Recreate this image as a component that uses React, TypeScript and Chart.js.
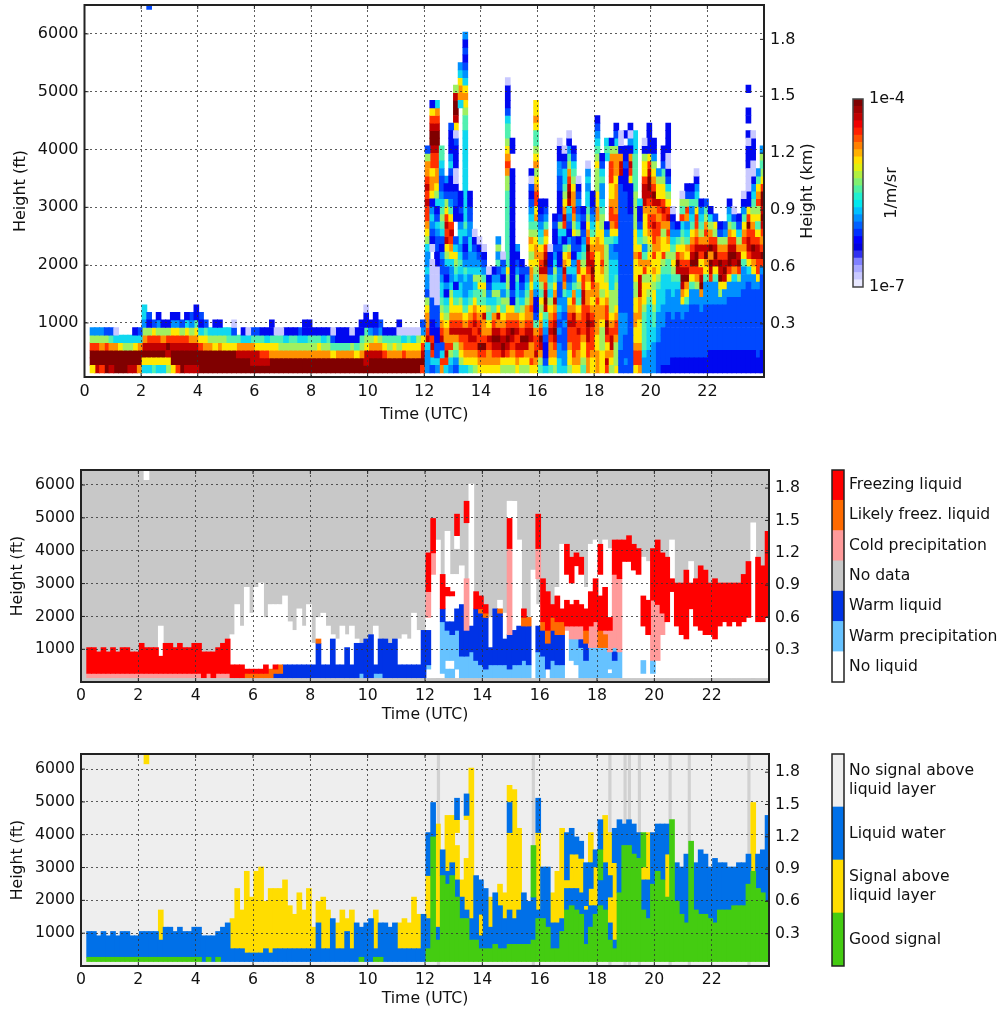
import React, { useEffect, useRef } from "react";
import { Chart, registerables } from "chart.js";

Chart.register(...registerables);

const FONT = "'DejaVu Sans'";
const hourTicks = [0, 2, 4, 6, 8, 10, 12, 14, 16, 18, 20, 22];
const feetTicks = [1000, 2000, 3000, 4000, 5000, 6000];
const kmTicks = [0.3, 0.6, 0.9, 1.2, 1.5, 1.8];

// bottom-up, one char per range gate, 10-minute columns from 00:12 UTC
const backscatterLevels: Record<string, string> = {
  "0": "#c8c8ff", "1": "#0008f0", "2": "#0048ff", "3": "#0090ff", "4": "#10d8f0", "5": "#50f0b0",
  "6": "#a0f060", "7": "#ffe800", "8": "#ff9000", "9": "#ff3000", a: "#c00000", b: "#800000",
};
const backscatterEarly = [
  "7bb963","abb963","9bb863","bbb962","abb852","bbb840","bbb74","bbb64","abb64","abb741","8bb842","47ba86344",
  "47ba9612........................................23","57ba972","47ba9631","47ba861","67ab961","7bba9731","9bba9731","bbba962","abba9741","abba8632","abba87511",
  "bbb97412","bbb8752","bbb864","bbb7641","bbb8641","bbb764","bbb754","bbb7520","bba85","bba841","bba840","baa852","baa752","ba9751","ba9741",
  "bb87511","bb8750","bb8650","bb8641","bb8651","bb8651","bb8642","bb86411","bb86511","bb8651","bb8751","bb8641","bb8651","bb7520","bb8511","bb8511","bb8511","bb8610","bb7511","bb86511",
  "baa7651 10","bba8631","bba87211","bba8632","bb9751","bb8651","bb8751","bb86501","bb9740","bb8750","bb8740","bb8760","9ba9732",
];
const backscatterLate = [
  "3334a98876233433467899a9a98862","249a91122200000.0123431788799abba971","34221122200000112234214678899abba984","8942a9876544322312456543223455",
  "49a9887654131246 7a9a976213","346 98a9877643347 89a9753211243111 2","23568a987541456742..1122100111207abba6","46789a98764434543443121 1...........488743",
  "4789 9a87543345321245444444444444556787432 1213","5789aa987543343344332211","6789a9a987546433210","789b9a987557643210","789b988a756753210","7889a87564321 0",
  "789aba98546431","789aba8a756432 5363","67aba9875634 1320","679aba98765667555555555566898765542111 0","6789ab98712111111111 1111111..11","789a9a98554453213","679ab9876432121","678aba98865432","7988aa98988 78876786543212 01",
  "78a9985211345678876587998768765578 77","568ab98767568a98754321 1","42112345aba98aba978532 1","57889a98764542110","6789aba98a87564321121","4433232343223311234621112233110","433222323358 9a87514 9a87654 4210","677899a98743247863123 4ab a98653 10","78999 9aa89853431227689887654 21",
  "78899a9875467994216432 3210","5677899 99aa997654321 21","8899aab a988789aab98765443 430","7789 99a98789aba98754321 1","888778888988777788778877666765 4321","77766678876778988776654 33542 1","9a879ab9987766666 531........454","678aa98766644443 3578998779998 61","7666899876665443247 998888788864 21",
  "2223333322222222222222222 1aa81 00","2322233322222222222222221112 11.1","2222222222222222222221111 79a8130 1","799877887766777877766666555554 44","89987778 88aaa7897542 114","33455555677769853 677 78aaa97761 0","33344444456767876789 98 9abba97111 1","3333 445567767879899a98ab98763 11","2222333344 456777889989a7763","122222333444456 97768 9a97765 211","1222222233344 556789 8a976421001111",
  "11222223334 45676543210","112222223334 5ab97531","1122222337 8aba987654956 0","1122222235 78ba97854389621","112222222335 79ba98754352 1","112222222336 89bba9899754310","11222222338ba979a865431","112222222333 578ba89865 2","111222222333 9ab8b98641","111222222333 57aba9672","11122222236 7bab98621","11122222233 7aba98632","111222222233 79bba98643 1","1112222222334 8aba9752 0","1112222222336 9ba8642 1","111222222223 33578987531 0",
  "1112222222223479aa9b971100011101.11..1","11122222222337 8ab998765431001110","11222222222379 9aa975769875 3","111222222222239b989ababb97656 3",
];
const backscatterCols = backscatterEarly.concat(backscatterLate).map((c) => c.replace(/\s/g, ""));

// run-length columns, bottom-up, class letter followed by number of range gates
const phaseColors: Record<string, string> = { F: "#ff0000", L: "#ff6a00", C: "#ff9a9a", W: "#0033e6", P: "#66c2ff", N: "#ffffff" };
const phaseCols = [
  "C1F6","C1F6","C1F5","C1F6","C1F5","C1F6","C1F5","C1F6","C1F6","C1F5","C1F5","C1F7","C1F6_39N5","C1F6","C1F6","C1F4N7","C1F7","C1F7","C1F6","C1F7","C1F6","C1F6","C1F7","C1F7","F6","C1F5","F6","C1F6","C1F7","C1F8",
  "F3N7","F3N14","F3N9","L1F1N19","L1F1N13","L1F1N19","L1F1N20","L1F2N11","L2N15","W1L1F1N14","W1L2N14","W3N16","W3N10","W3N8","W3N13","W3N9","W3N14","W3N5","W8L1N5","W3N12","W3N9","W9N1","W3N6","W3N9","W7N3","W3N9","W8N1","P1W7","W9","W10","P1W2N9","P1W8","W9","W8","W9","W3N6","W3N7","W3N6","W3N12","W3N8","W11",
  "N2P1W8N3C6F9","N24C5F8","N32","N1P12W3F8","P2N2P7W2N6F2N13","P2N2P6W3N6F1N4","N2P9W5N8_6N3F5","P5W12N9","P5W6C12_13F5","P6W6N33","P4W12F4","P3W12L1F3","P2W12L1F2","P3W4N7","P3W13","P3W12L1N2","P3W6N6","P2W8C20F7N4","P3W8N30","P3W9N20","P4W8L2F2","P3W9L2","N25","P6W6N5_6C7F8",
  "P5W6L2F10","N2W6L3F9","P4W7L3F3","P3W7L3F6N2","P3W7L3F3N15","N11C1F6N6F7","N4P5C3F5N5F6","N3P6C3F6N8F3","P7W2C3F5N7F4","P4W4L3F5N5","P7C5F8N11","P7C6F10N9","P7L4F8N5F7","P7L3C1F10N11","P1N1P4C5F3N16","P4W2P1C17F8","P6C17F9","N27F5","N27F6","N25F6","N24F6","N1P3N8F7N9","N10F8N9","N1P3C14F12","N4C13F15","N10C5F14","N13F15","N20F3N9",
  "N12F10","N10F12","N9F16","N16F6N5","N12F11","N11F15","N10F15","N10F12","N9F14","N12F10","N13F9","N12F10","N13F9","N12F10","N13F11","N14F13","N36","N13F15","N13F13","N14F20",
];

const signalColors: Record<string, string> = { G: "#44cc11", B: "#0070e8", Y: "#ffdd00" };
const signalCols = [
  "G1B6","G1B6","G1B5","G1B6","G1B5","G1B6","G1B5","G1B6","G1B6","G1B5","G1B5","G1B6","G1B6_39Y5","G1B6","G1B6","G1B4Y7","G1B7","G1B7","G1B6","G1B7","G1B6","G1B6","G1B7","G1B7","B6","G1B5","B6","G1B6","B8","B9",
  "B3Y7","B3Y14","B3Y9","B2Y19","B2Y13","B2Y19","B2Y20","B3Y11","B2Y15","B3Y14","B3Y14","B3Y16","B3Y10","B3Y8","B3Y13","B3Y9","B3Y14","B3Y5","B9Y5","B3Y12","B3Y9","B10","B3Y6","B3Y9","B7Y3","B3Y9","B9","G1B7","B9","B10","G1B2Y9","G1B8","B9","B8","B9","B3Y6","B3Y7","B3Y6","B3Y12","B3Y8","B11",
  "G3B7Y10B10","G29B8","G5B3Y24","G20B6","G18B3Y13","G20B3Y11","G15B4Y8_3Y3B5","G10B5Y4","G10B2Y12_9Y1B5","G5B5Y35","G5B15","G3B3Y5B8","G3B14","G3B5Y7","G4B12","G3B10Y5","G3B7Y6","G4B8Y18B7Y4","G4B6Y30","G4B8Y19","G4B12","G4B10","G5B10G12","G10B2Y18B8",
  "G10B12","G8B14","G3B6Y7","G3B6Y12","G7B3Y21","G12B5Y2B11","G13B4Y8B6","G12B5Y8B4","G11B5Y8B4","G4B8Y1B10","G8B5Y4B6Y7","G11B2Y9B4","G13B6G7B7","G12B11Y11","G5B4Y6B5Y10","G3B2Y18B8","G16B17","G27B5","G27B6","G25B7","G24B6","G12B7Y3G8","G10B9Y11","G18B12","G21B11","G19B13","G15Y10B7","G33",
  "G14B9","G11B11","G9B16","G28","G12B11","G11B15","G11B14","G10B12","G9B15","G12B11","G12B11","G12B10","G13B9","G13B10","G13B10","G18B7","G21Y16","G17B8","G16B10","G14B20",
];
const noSignalHours = [12.47, 15.78, 18.45, 18.98, 19.13, 19.48, 20.55, 21.22, 23.3];

const colorbarStops = ["#e8e8ff","#c8c8ff","#a8a8ff","#8080ff","#3030f0","#0000e0","#0000ff","#0030ff","#0060ff","#0090ff","#00c0ff","#00e8f0","#20f0d0","#50f0a0","#80f070","#b0f040","#e0f010","#ffe000","#ffb000","#ff8000","#ff5000","#ff2000","#f00000","#c00000","#a00000","#800000"];

const phaseLegendLabels = ["Freezing liquid", "Likely freez. liquid", "Cold precipitation", "No data", "Warm liquid", "Warm precipitation", "No liquid"];
const phaseLegendColors = ["#ff0000", "#ff6a00", "#ff9a9a", "#c8c8c8", "#0033e6", "#66c2ff", "#ffffff"];
const signalLegendLabels = [["No signal above", "liquid layer"], ["Liquid water"], ["Signal above", "liquid layer"], ["Good signal"]];
const signalLegendColors = ["#eeeeee", "#0070e8", "#ffdd00", "#44cc11"];

const GATE_BASE = 135;
const GATE_STEP = 131;
const colHour = (k: number) => 0.2 + k / 6 + 1 / 12;

const framePlugin = {
  id: "frame",
  beforeDraw(chart: any, _a: any, o: any) {
    if (o.bg) {
      const { left, top, width, height } = chart.chartArea;
      chart.ctx.fillStyle = o.bg;
      chart.ctx.fillRect(left, top, width, height);
    }
  },
  afterDraw(chart: any, _a: any, o: any) {
    const { ctx, chartArea: c } = chart;
    ctx.save();
    ctx.strokeStyle = o.color || "#222";
    ctx.lineWidth = o.lineWidth || 2;
    ctx.strokeRect(c.left, c.top, c.right - c.left, c.bottom - c.top);
    if (o.ticks) {
      ctx.lineWidth = 1;
      ctx.beginPath();
      chart.scales.x.ticks.forEach((t: any) => {
        const x = chart.scales.x.getPixelForValue(t.value);
        ctx.moveTo(x, c.bottom); ctx.lineTo(x, c.bottom - 4);
        ctx.moveTo(x, c.top); ctx.lineTo(x, c.top + 4);
      });
      chart.scales.y.ticks.forEach((t: any) => {
        const y = chart.scales.y.getPixelForValue(t.value);
        ctx.moveTo(c.left, y); ctx.lineTo(c.left + 4, y);
      });
      chart.scales.y2.ticks.forEach((t: any) => {
        const y = chart.scales.y2.getPixelForValue(t.value);
        ctx.moveTo(c.right, y); ctx.lineTo(c.right - 4, y);
      });
      ctx.stroke();
    }
    if (o.rightTitle) {
      ctx.fillStyle = "#111";
      ctx.font = `16px ${FONT}`;
      ctx.textAlign = "center";
      ctx.textBaseline = "middle";
      ctx.translate(o.rightTitleX, (c.top + c.bottom) / 2);
      ctx.rotate(-Math.PI / 2);
      ctx.fillText(o.rightTitle, 0, 0);
    }
    ctx.restore();
  },
};

function groupCells(cols: string[]) {
  const out: Record<string, any[]> = {};
  cols.forEach((col, k) => {
    [...col].forEach((ch, i) => {
      if (ch === ".") return;
      (out[ch] = out[ch] || []).push({ x: colHour(k), y: [GATE_BASE + GATE_STEP * i, GATE_BASE + GATE_STEP * (i + 1)] });
    });
  });
  return out;
}

function groupRuns(cols: string[]) {
  const out: Record<string, any[]> = {};
  cols.forEach((col, k) => {
    let pos = 0;
    for (const m of col.matchAll(/([A-Z_])(\d+)/g)) {
      const n = Number(m[2]);
      if (m[1] !== "_") {
        (out[m[1]] = out[m[1]] || []).push({ x: colHour(k), y: [GATE_BASE + GATE_STEP * pos, GATE_BASE + GATE_STEP * (pos + n)] });
      }
      pos += n;
    }
  });
  return out;
}

function panelConfig(p: any) {
  const grid = { color: "rgba(50,50,50,0.8)", lineWidth: 1, z: 1, tickLength: 0, offset: false };
  const border = { display: false, dash: [2, 3] };
  const font = { family: FONT, size: p.fontSize };
  return {
    type: "bar",
    data: { datasets: p.datasets },
    plugins: [framePlugin],
    options: {
      animation: false,
      responsive: false,
      devicePixelRatio: 1,
      layout: { padding: { top: p.padTop } },
      plugins: { legend: { display: false }, tooltip: { enabled: false }, frame: { bg: p.bg, ticks: true, rightTitle: p.rightTitle, rightTitleX: p.rightTitleX } },
      scales: {
        x: {
          type: "linear", min: 0, max: p.xMax, offset: false, grid, border,
          afterBuildTicks: (s: any) => { s.ticks = hourTicks.map((value) => ({ value })); },
          afterFit: (s: any) => { s.height = p.xHeight; s.paddingLeft = 0; s.paddingRight = 0; },
          ticks: { color: "#111", font, padding: 5, maxRotation: 0, autoSkip: false, callback: (v: number) => String(v) },
          title: { display: true, text: "Time (UTC)", color: "#111", font, padding: { top: 0, bottom: p.xTitlePad } },
        },
        y: {
          type: "linear", position: "left", min: p.yMin, max: p.yMax, grid, border,
          afterBuildTicks: (s: any) => { s.ticks = feetTicks.map((value) => ({ value })); },
          afterFit: (s: any) => { s.width = p.left; s.paddingTop = 0; s.paddingBottom = 0; },
          ticks: { color: "#111", font, padding: 6, autoSkip: false, callback: (v: number) => String(v) },
          title: { display: true, text: "Height (ft)", color: "#111", font, padding: { top: p.yTitlePad, bottom: 0 } },
        },
        y2: {
          type: "linear", position: "right", min: p.yMin * 0.3048 / 1000, max: p.yMax * 0.3048 / 1000,
          grid: { display: false, drawOnChartArea: false, tickLength: 0 },
          border: { display: false },
          afterBuildTicks: (s: any) => { s.ticks = kmTicks.map((value) => ({ value })); },
          afterFit: (s: any) => { s.width = p.rightW; s.paddingTop = 0; s.paddingBottom = 0; },
          ticks: { color: "#111", font, padding: 6, autoSkip: false, callback: (v: number) => v.toFixed(1) },
        },
      },
    },
  };
}

function cellDatasets(groups: Record<string, any[]>, colors: Record<string, string>, thick: number) {
  return Object.keys(colors).filter((k) => groups[k]).map((k) => ({
    data: groups[k], backgroundColor: colors[k], barThickness: thick, grouped: false, borderWidth: 0,
  }));
}

function legendConfig(labels: any[], colors: string[], padLeft: number, rightW: number, padTop: number, padBottom: number) {
  const n = labels.length;
  return {
    type: "bar",
    data: {
      labels: ["k"],
      datasets: colors.slice().reverse().map((c) => ({ data: [1], backgroundColor: c, barPercentage: 1, categoryPercentage: 1, stack: "s", borderWidth: 0 })),
    },
    plugins: [framePlugin],
    options: {
      animation: false, responsive: false, devicePixelRatio: 1,
      layout: { padding: { left: padLeft, top: padTop, bottom: padBottom } },
      plugins: { legend: { display: false }, tooltip: { enabled: false }, frame: { color: "#222", lineWidth: 1.5 } },
      scales: {
        x: { display: false, stacked: true },
        y: {
          position: "right", min: 0, max: n, stacked: true, grid: { display: false, tickLength: 0 }, border: { display: false },
          afterBuildTicks: (s: any) => { s.ticks = labels.map((_l, i) => ({ value: n - i - 0.5 })); },
          afterFit: (s: any) => { s.width = rightW; s.paddingTop = 0; s.paddingBottom = 0; },
          ticks: {
            color: "#111", font: { family: FONT, size: 15.6 }, padding: 5, autoSkip: false,
            callback: (v: number) => labels[Math.round(n - v - 0.5)],
          },
        },
      },
    },
  };
}

function colorbarConfig() {
  const n = colorbarStops.length;
  return {
    type: "bar",
    data: {
      labels: ["c"],
      datasets: colorbarStops.map((c, i) => ({
        data: [[-7 + (3 * i) / n, -7 + (3 * (i + 1)) / n]], backgroundColor: c, barPercentage: 1, categoryPercentage: 1, grouped: false, borderWidth: 0,
      })),
    },
    plugins: [framePlugin],
    options: {
      animation: false, responsive: false, devicePixelRatio: 1,
      layout: { padding: { left: 13, top: 9, bottom: 13 } },
      plugins: { legend: { display: false }, tooltip: { enabled: false }, frame: { color: "#444", lineWidth: 1.5, rightTitle: "1/m/sr", rightTitleX: 52 } },
      scales: {
        x: { display: false },
        y: {
          position: "right", min: -7, max: -4, grid: { display: false, tickLength: 0 }, border: { display: false },
          afterBuildTicks: (s: any) => { s.ticks = [{ value: -7 }, { value: -4 }]; },
          afterFit: (s: any) => { s.width = 77; s.paddingTop = 0; s.paddingBottom = 0; },
          ticks: { color: "#111", font: { family: FONT, size: 16 }, padding: 6, autoSkip: false, callback: (v: number) => `1e${v}` },
        },
      },
    },
  };
}

function Canvas({ left, top, width, height, make }: any) {
  const ref = useRef<HTMLCanvasElement>(null);
  useEffect(() => {
    const chart = new Chart(ref.current as any, make() as any);
    return () => chart.destroy();
  }, []);
  return <canvas ref={ref} width={width} height={height} style={{ position: "absolute", left, top, width, height }} />;
}

export default function App() {
  return (
    <div style={{ position: "absolute", left: 0, top: 0, width: 1002, height: 1009, overflow: "hidden", background: "#fff", filter: "blur(0.45px)" }}>
      <Canvas left={0} top={0} width={830} height={425} make={() => panelConfig({
        datasets: cellDatasets(groupCells(backscatterCols), backscatterLevels, 5),
        fontSize: 16, padTop: 5, left: 84.5, rightW: 66, xHeight: 48, xMax: 24, yMin: 65, yMax: 6500,
        xTitlePad: 0.5, yTitlePad: 11, rightTitle: "Height (km)", rightTitleX: 808,
      })} />
      <Canvas left={840} top={90} width={100} height={210} make={colorbarConfig} />
      <Canvas left={0} top={460} width={825} height={270} make={() => panelConfig({
        datasets: cellDatasets(groupRuns(phaseCols), phaseColors, 5),
        bg: "#c8c8c8", fontSize: 15.7, padTop: 10, left: 81, rightW: 56, xHeight: 48, xMax: 24, yMin: 5, yMax: 6456,
        xTitlePad: 5.5, yTitlePad: 9,
      })} />
      <Canvas left={825} top={460} width={177} height={232} make={() => legendConfig(phaseLegendLabels, phaseLegendColors, 7, 158, 10, 10)} />
      <Canvas left={0} top={745} width={825} height={264} make={() => panelConfig({
        datasets: [
          ...cellDatasets(groupRuns(signalCols), signalColors, 5),
          { data: noSignalHours.map((x) => ({ x, y: [0, 6500] })), backgroundColor: "rgba(205,205,205,0.9)", barThickness: 2.5, grouped: false, order: 5, borderWidth: 0 },
        ],
        bg: "#eeeeee", fontSize: 15.7, padTop: 9, left: 81, rightW: 56, xHeight: 43, xMax: 24, yMin: 0, yMax: 6460,
        xTitlePad: 1, yTitlePad: 9,
      })} />
      <Canvas left={825} top={745} width={177} height={232} make={() => legendConfig(signalLegendLabels, signalLegendColors, 7, 158, 9, 11)} />
    </div>
  );
}
